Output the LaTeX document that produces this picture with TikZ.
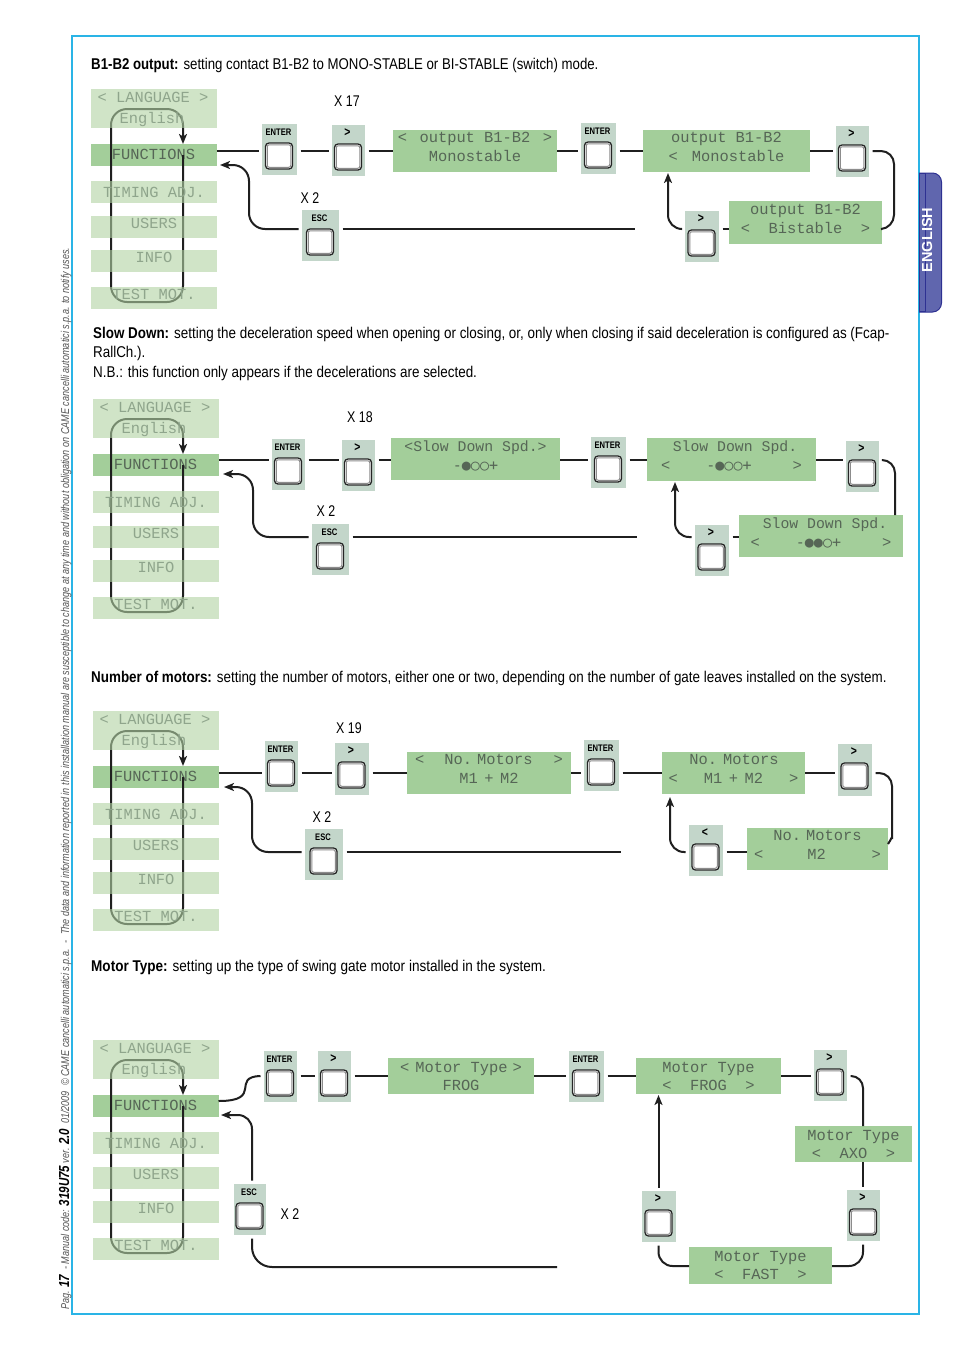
\documentclass[tikz,border=0pt]{standalone}
\usepackage{fontspec}
\usetikzlibrary{arrows.meta}
\setmainfont{Liberation Sans}[FakeStretch=0.8]
\newfontfamily\parafont{Liberation Sans}[FakeStretch=0.86]
\newfontfamily\parafontb{Liberation Sans}[FakeStretch=0.848]
\newfontfamily\parafontc{Liberation Sans}[FakeStretch=0.868]
\newfontfamily\tabfont{Liberation Sans}
\newfontfamily\lcd{Liberation Mono}
\newfontfamily\lcdsym{DejaVu Sans Mono}
\definecolor{cyanb}{HTML}{2AB4E6}
\definecolor{dispg}{HTML}{A3CE9A}
\definecolor{fadeg}{HTML}{B1D2A3}
\definecolor{btng}{HTML}{C3D6CA}
\definecolor{lcdt}{HTML}{566656}
\definecolor{lcdf}{HTML}{8FA58C}
\definecolor{tabp}{HTML}{6066AE}
\definecolor{tabe}{HTML}{2E3192}
\definecolor{sidet}{HTML}{555555}
\tikzset{
  x=1pt,y=-1pt,
  conn/.style={line width=2pt,draw=black!88,rounded corners=14pt},
  tipped/.style={-{Stealth[length=10pt,width=8pt,inset=2.5pt]}},
  dispf/.style={fill=dispg,inner sep=0pt,outer sep=0pt,align=center,text=lcdt,
    font=\lcd\fontsize{15.4}{18}\selectfont},
  disp/.style={dispf,text depth=7.5pt,font=\lcd\fontsize{15.4}{19}\selectfont},
  fade/.style={fill=fadeg,fill opacity=.6,text opacity=1,inner sep=0pt,outer sep=0pt,align=center,text=lcdf,
    font=\lcd\fontsize{15.4}{21}\selectfont},
  fadeup/.style={fade,text depth=7pt},
  btnbg/.style={fill=btng,inner sep=0pt,outer sep=3.5pt},
  btnout/.style={draw=black!85,line width=1.3pt,rounded corners=3.5pt,fill=white,minimum width=27pt,minimum height=26pt,inner sep=0pt},
  btnin/.style={draw=black!45,line width=1pt,rounded corners=2pt,fill=white,minimum width=23.5pt,minimum height=22.5pt,inner sep=0pt},
  btnlab/.style={inner sep=0pt,font=\bfseries\fontsize{9.5}{10}\selectfont},
  para/.style={anchor=base west,inner sep=0pt,font=\parafont\fontsize{15.6}{18}\selectfont},
  xlab/.style={inner sep=0pt,font=\fontsize{15.5}{18}\selectfont},
}
\newcommand{\gtl}{{\fontsize{13}{13}\selectfont >}}
\newcommand{\ltl}{{\fontsize{13}{13}\selectfont <}}
\newcommand{\bgg}[1]{\textcolor{black}{\bfseries\fontsize{14.5}{14}\selectfont #1}}
\newcommand{\sym}[1]{{\lcdsym\fontsize{15}{19}\selectfont #1}}
% display: name x1 y1 x2 y2 text
\newcommand{\dsp}[6]{\node[disp,minimum width={(#4-#2)*1pt},minimum height={(#5-#3)*1pt}] (#1) at ({(#2+#4)/2},{(#3+#5)/2}) {#6};}
\newcommand{\dspf}[6]{\node[dispf,minimum width={(#4-#2)*1pt},minimum height={(#5-#3)*1pt}] (#1) at ({(#2+#4)/2},{(#3+#5)/2}) {#6};}
% button: name x1 y1 x2 y2 label
\newcommand{\btn}[6]{%
  \node[btnbg,minimum width={(#4-#2)*1pt},minimum height={(#5-#3)*1pt}] (#1) at ({(#2+#4)/2},{(#3+#5)/2}) {};
  \node[btnout] (#1k) at ({(#2+#4)/2-.5},{#3+32}) {};
  \node[btnin] (#1i) at ({(#2+#4)/2-.5},{#3+32}) {};
  \node[btnlab] (#1t) at ({(#2+#4)/2-1},{#3+8}) {#6};}
% menu: prefix x0 y0
\newcommand{\menu}[3]{%
  \node[fill=dispg,minimum width=126pt,minimum height=22pt,inner sep=0pt,outer sep=0pt,text=lcdt,text depth=2pt,font=\lcd\fontsize{15.4}{18}\selectfont] (#1f) at ({#2+62.5},{#3+66}) {FUNCTIONS};
  \coordinate (#1s) at (183,{#3+66});
  \draw[conn,tipped,rounded corners=16pt] (#1s) -- (183,{#3+213}) -- (111,{#3+213}) -- (111,{#3+20}) -- (183,{#3+20}) -- (#1s |- #1f.north);
  \node[fade,minimum width=126pt,minimum height=39pt] (#1a) at ({#2+63},{#3+19.5}) {};
  \node[fade,minimum width=126pt,minimum height=22pt] (#1b) at ({#2+63},{#3+103}) {TIMING ADJ.};
  \node[fadeup,minimum width=126pt,minimum height=22pt] (#1c) at ({#2+63},{#3+137.5}) {USERS};
  \node[fadeup,minimum width=126pt,minimum height=22pt] (#1d) at ({#2+63},{#3+172}) {INFO};
  \node[fadeup,minimum width=126pt,minimum height=22pt] (#1e) at ({#2+63},{#3+208.5}) {TEST MOT.};
  \node[fade,fill=none] (#1g) at ({#2+62},{#3+8.5}) {< LANGUAGE >};
  \node[fade,fill=none] (#1h) at ({#2+61},{#3+30.5}) {English};
}
\newcommand{\hlink}[3]{\draw[conn] (#1.east |- #3) -- (#2.west |- #3);}
\begin{document}
\begin{tikzpicture}
\useasboundingbox (0,0) rectangle (954,1350);
\fill[white] (0,0) rectangle (954,1350);
% frame
\draw[cyanb,line width=1.6pt] (72,36) rectangle (919,1314);
% tab
\draw[tabe,line width=1pt,fill=tabp,rounded corners=9pt] (919,173) -- (941.5,173) -- (941.5,312) -- (919,312);
\draw[tabe,line width=0pt,fill=tabp] (919,173.5) rectangle (925,311.5);
\node[rotate=90,text=white,inner sep=0pt,font=\tabfont\bfseries\fontsize{14.5}{16}\selectfont] (tab) at (927,240) {ENGLISH};
% side text
\node[rotate=90,anchor=base west,inner sep=0pt,text=sidet,font=\itshape\fontsize{11.36}{12}\selectfont] (side) at (69,1310)
 {Pag. \bgg{17} \ - Manual code: \bgg{319U75} ver. \bgg{2.0} \ 01/2009 \ © CAME cancelli automatici s.p.a. \ - \ The data and information reported in this installation manual are susceptible to change at any time and without obligation on CAME cancelli automatici s.p.a. to notify uses.};
% paragraphs
\node[para,font=\parafontb\fontsize{15.6}{18}\selectfont] (p1) at (91,69) {\textbf{B1-B2 output:} setting contact B1-B2 to MONO-STABLE or BI-STABLE (switch) mode.};
\node[para] (p2) at (93,338) {\textbf{Slow Down:} setting the deceleration speed when opening or closing, or, only when closing if said deceleration is configured as (Fcap-};
\node[para] (p3) at (93,357) {RallCh.).};
\node[para] (p4) at (93,377) {N.B.: this function only appears if the decelerations are selected.};
\node[para] (p5) at (91,682) {\textbf{Number of motors:} setting the number of motors, either one or two, depending on the number of gate leaves installed on the system.};
\node[para,font=\parafontc\fontsize{15.6}{18}\selectfont] (p6) at (91,971) {\textbf{Motor Type:} setting up the type of swing gate motor installed in the system.};

% ---------- panel 1
\menu{ma}{91}{89}
\btn{aE}{262}{124}{297}{175}{ENTER}
\btn{aG}{332}{125}{365}{176}{\gtl}
\btn{aX}{302}{210}{339}{261}{ESC}
\btn{aF}{581}{123}{616}{174}{ENTER}
\btn{aH}{836}{126}{869}{177}{\gtl}
\btn{aI}{685}{211}{719}{262}{\gtl}
\dsp{aA}{393}{130}{557}{172}{<\hspace{12.5pt}output B1-B2\hspace{12.5pt}>\\Monostable}
\dsp{aB}{643}{130}{810}{172}{output B1-B2\\<\hspace{14pt}Monostable}
\dsp{aC}{729}{201}{882}{244}{output B1-B2\\<~~Bistable~~>}
\node[xlab] (aL1) at (347,101) {X 17};
\node[xlab] (aL2) at (310,198) {X 2};
\coordinate (ar1) at (0,151);
\coordinate (ar2) at (0,229);
\coordinate (aend) at (635,229);
\coordinate (aret) at (220,165);
\coordinate (aup) at (668,173);
\hlink{maf}{aE}{ar1}
\hlink{aE}{aG}{ar1}
\hlink{aG}{aA}{ar1}
\hlink{aA}{aF}{ar1}
\hlink{aF}{aB}{ar1}
\hlink{aB}{aH}{ar1}
\draw[conn,rounded corners=13pt] (aH.east |- ar1) -- (894,151) -- (894,228) -- (aC.east |- ar2);
\hlink{aI}{aC}{ar2}
\draw[conn,tipped] (aI.west |- ar2) -- (668,229) -- (aup);
\draw[conn] (aX.east |- ar2) -- (aend);
\draw[conn,tipped,rounded corners=16pt] (aX.west |- ar2) -- (249,229) -- (249,165) -- (aret);

% ---------- panel 2
\menu{mb}{93}{399}
\btn{bE}{272}{439}{305}{490}{ENTER}
\btn{bG}{342}{440}{375}{491}{\gtl}
\btn{bX}{312}{524}{349}{575}{ESC}
\btn{bF}{591}{437}{626}{488}{ENTER}
\btn{bH}{846}{441}{879}{492}{\gtl}
\btn{bI}{695}{525}{729}{576}{\gtl}
\dsp{bA}{391}{438}{560}{480}{{\fontsize{14.8}{19}\selectfont<Slow Down Spd.>}\\\sym{-●○○+}}
\dsp{bB}{647}{438}{816}{481}{\hspace{7pt}{\fontsize{14.8}{19}\selectfont Slow Down Spd.}\\<\hspace{36pt}\sym{-●○○+}\hspace{41pt}>\hspace{9pt}}
\dsp{bC}{739}{515}{903}{557}{\hspace{8pt}{\fontsize{14.8}{19}\selectfont Slow Down Spd.}\\<\hspace{36pt}\sym{-●●○+}\hspace{41pt}>\hspace{9pt}}
\node[xlab] (bL1) at (360,417) {X 18};
\node[xlab] (bL2) at (326,511) {X 2};
\coordinate (br1) at (0,460);
\coordinate (br2) at (0,537);
\coordinate (bend) at (637,537);
\coordinate (bret) at (223,474);
\coordinate (bup) at (675,482);
\coordinate (bdn) at (895,515);
\hlink{mbf}{bE}{br1}
\hlink{bE}{bG}{br1}
\hlink{bG}{bA}{br1}
\hlink{bA}{bF}{br1}
\hlink{bF}{bB}{br1}
\hlink{bB}{bH}{br1}
\draw[conn,rounded corners=13pt] (bH.east |- br1) -- (895,460) -- (bdn);
\hlink{bI}{bC}{br2}
\draw[conn,tipped] (bI.west |- br2) -- (675,537) -- (bup);
\draw[conn] (bX.east |- br2) -- (bend);
\draw[conn,tipped,rounded corners=16pt] (bX.west |- br2) -- (253,537) -- (253,474) -- (bret);

% ---------- panel 3
\menu{mc}{93}{711}
\btn{cE}{265}{741}{298}{792}{ENTER}
\btn{cG}{335}{743}{369}{795}{\gtl}
\btn{cX}{305}{829}{343}{880}{ESC}
\btn{cF}{584}{740}{619}{791}{ENTER}
\btn{cH}{838}{744}{872}{796}{\gtl}
\btn{cI}{689}{825}{723}{876}{\ltl}
\dsp{cA}{407}{752}{571}{794}{<\hspace{20pt}No.\hspace{5pt}Motors\hspace{21pt}>\hspace{5pt}\\M1\hspace{6.5pt}+\hspace{6.5pt}M2}
\dsp{cB}{662}{752}{805}{794}{\hspace{1pt}No.\hspace{6pt}Motors\\<\hspace{26pt}M1\hspace{6.5pt}+\hspace{6.5pt}M2\hspace{26pt}>\hspace{3pt}}
\dsp{cC}{747}{828}{888}{870}{No.\hspace{5pt}Motors\\<\hspace{44pt}M2\hspace{46pt}>\hspace{3pt}}
\node[xlab] (cL1) at (349,728) {X 19};
\node[xlab] (cL2) at (322,817) {X 2};
\coordinate (cr1) at (0,773);
\coordinate (cr2) at (0,852);
\coordinate (cr3) at (0,844);
\coordinate (cend) at (621,852);
\coordinate (cret) at (224,787);
\coordinate (cup) at (670,797);
\hlink{mcf}{cE}{cr1}
\hlink{cE}{cG}{cr1}
\hlink{cG}{cA}{cr1}
\hlink{cA}{cF}{cr1}
\hlink{cF}{cB}{cr1}
\hlink{cB}{cH}{cr1}
\draw[conn,rounded corners=13pt] (cH.east |- cr1) -- (892,773) -- (892,826) .. controls (892,835) and (891,840) .. (cC.east |- cr3);
\hlink{cI}{cC}{cr2}
\draw[conn,tipped] (cI.west |- cr2) -- (670,852) -- (cup);
\draw[conn] (cX.east |- cr2) -- (cend);
\draw[conn,tipped,rounded corners=16pt] (cX.west |- cr2) -- (252,852) -- (252,787) -- (cret);

% ---------- panel 4
\menu{md}{93}{1040}
\btn{dE}{264}{1051}{297}{1102}{ENTER}
\btn{dG}{318}{1051}{351}{1102}{\gtl}
\btn{dX}{234}{1184}{266}{1235}{ESC}
\btn{dF}{569}{1051}{604}{1102}{ENTER}
\btn{dH}{814}{1050}{847}{1101}{\gtl}
\btn{dJ}{847}{1190}{880}{1241}{\gtl}
\btn{dI}{642}{1191}{676}{1242}{\gtl}
\dspf{dA}{388}{1058}{534}{1094}{<\hspace{6pt}Motor Type\hspace{5pt}>\hspace{3pt}\\FROG}
\dspf{dB}{636}{1058}{781}{1094}{Motor Type\\<~~FROG~~>}
\dspf{dC}{795}{1126}{912}{1162}{Motor Type\\<~~AXO~~>}
\dspf{dD}{689}{1247}{832}{1284}{Motor Type\\<~~FAST~~>}
\node[xlab] (dL2) at (290,1214) {X 2};
\coordinate (dr1) at (0,1076);
\coordinate (dr4) at (0,1266);
\coordinate (dr5) at (0,1101);
\coordinate (dc1) at (863,0);
\coordinate (dc2) at (658.5,0);
\coordinate (dc3) at (252,0);
\coordinate (dend) at (557,1267);
\coordinate (dret) at (221,1115);
\coordinate (dup) at (658.5,1095);
\hlink{dE}{dG}{dr1}
\hlink{dG}{dA}{dr1}
\hlink{dA}{dF}{dr1}
\hlink{dF}{dB}{dr1}
\hlink{dB}{dH}{dr1}
\draw[conn] (mdf.east |- dr5) .. controls (264,1101) and (230,1077) .. (dE.west |- dr1);
\draw[conn,rounded corners=12pt] (dH.east |- dr1) -- (863,1076) -- (dC.north -| dc1);
\draw[conn] (dC.south -| dc1) -- (dJ.north -| dc1);
\draw[conn] (dJ.south -| dc1) -- (863,1266) -- (dD.east |- dr4);
\draw[conn] (dI.south -| dc2) -- (658.5,1266) -- (dD.west |- dr4);
\draw[conn,tipped] (dI.north -| dup) -- (dup);
\draw[conn,tipped,rounded corners=14pt] (dX.north -| dc3) -- (252,1115) -- (dret);
\draw[conn,rounded corners=20pt] (dX.south -| dc3) -- (252,1267) -- (dend);
\end{tikzpicture}
\end{document}
